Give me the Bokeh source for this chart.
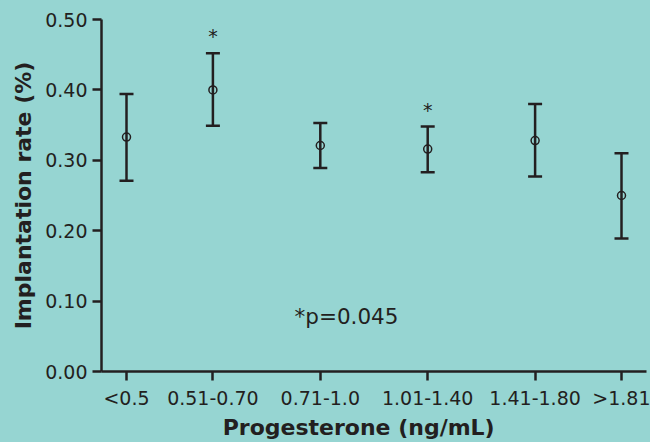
from bokeh.plotting import figure
from bokeh.models import (ColumnDataSource, FactorRange, Whisker, TeeHead, Label,
                          FixedTicker, NumeralTickFormatter)
from bokeh.core.properties import value
from bokeh.embed import file_html
from bokeh.resources import INLINE

# ---- data ----
categories = ["<0.5", "0.51-0.70", "0.71-1.0", "1.01-1.40", "1.41-1.80", ">1.81"]
rate = [0.333, 0.400, 0.321, 0.316, 0.328, 0.250]
upper = [0.394, 0.452, 0.353, 0.348, 0.380, 0.310]
lower = [0.271, 0.349, 0.289, 0.283, 0.277, 0.189]
significant = ["0.51-0.70", "1.01-1.40"]
y_ticks = [0.0, 0.1, 0.2, 0.3, 0.4, 0.5]
p_note = "*p=0.045"
x_title = "Progesterone (ng/mL)"
y_title = "Implantation rate (%)"

# layout grouping (reproduces the uneven category spacing of the original)
slot_group = ["a", "a", "b", "c", "d", "d"]

BG = "#96d5d2"
INK = "#231f20"
FONT = "DejaVu Sans"

factors = list(zip(slot_group, categories))
x_range = FactorRange(*factors, factor_padding=0.728, group_padding=1.148, range_padding=0)

p = figure(x_range=x_range, y_range=(0, 0.5), width=650, height=442,
           output_backend="svg", toolbar_location=None,
           background_fill_color=BG, border_fill_color=BG, outline_line_color=None,
           min_border_left=101, min_border_right=4, min_border_top=19, min_border_bottom=71)
p.grid.visible = False

ya = p.yaxis[0]
ya.ticker = FixedTicker(ticks=y_ticks)
ya.formatter = NumeralTickFormatter(format="0.00")
ya.axis_label = y_title

xa = p.xaxis[0]
# trailing no-break spaces shift the centred title left, as in the original
xa.axis_label = x_title + "\u00a0" * 4
xa.group_text_font_size = "0px"
xa.group_text_color = None
xa.separator_line_color = None

for ax in (xa, ya):
    ax.axis_line_color = INK
    ax.axis_line_width = 2.5
    ax.major_tick_line_color = INK
    ax.major_tick_line_width = 2.5
    ax.major_tick_out = 9
    ax.major_tick_in = 0
    ax.minor_tick_line_color = None
    ax.major_label_text_font = FONT
    ax.major_label_text_font_size = "19px"
    ax.major_label_text_color = INK
    ax.axis_label_text_font = FONT
    ax.axis_label_text_font_style = "bold"
    ax.axis_label_text_font_size = "22px"
    ax.axis_label_text_color = INK
ya.major_label_standoff = 5
ya.axis_label_standoff = 6
xa.major_label_standoff = 6
xa.axis_label_standoff = 3

src = ColumnDataSource(dict(x=factors, rate=rate, upper=upper, lower=lower))

whisk = Whisker(source=src, base="x", upper="upper", lower="lower", dimension="height",
                line_color=INK, line_width=2.5,
                upper_head=TeeHead(size=14, line_color=INK, line_width=2.5),
                lower_head=TeeHead(size=14, line_color=INK, line_width=2.5))
p.add_layout(whisk)

p.scatter("x", "rate", source=src, marker="circle", size=8,
          fill_color=None, line_color=INK, line_width=1.5)

sig_x = [f for f in factors if f[1] in significant]
sig_y = [u for f, u in zip(factors, upper) if f[1] in significant]
star_src = ColumnDataSource(dict(x=sig_x, y=sig_y))
p.text(x="x", y="y", text=value("*"), source=star_src, text_align="center",
       text_baseline="middle", y_offset=-17, text_font=value(FONT),
       text_font_size=value("19px"), text_color=INK)

p.add_layout(Label(x=245, y=0.078, x_units="screen", y_units="data", text=p_note,
                   text_align="center", text_baseline="middle", text_font=FONT,
                   text_font_size="21.5px", text_color=INK))

html = file_html(p, INLINE)
html = html.replace("</head>",
                    "<style>html,body{margin:0;padding:0;background:%s;overflow:hidden;}</style></head>" % BG, 1)
open("out.html", "w").write(html)
